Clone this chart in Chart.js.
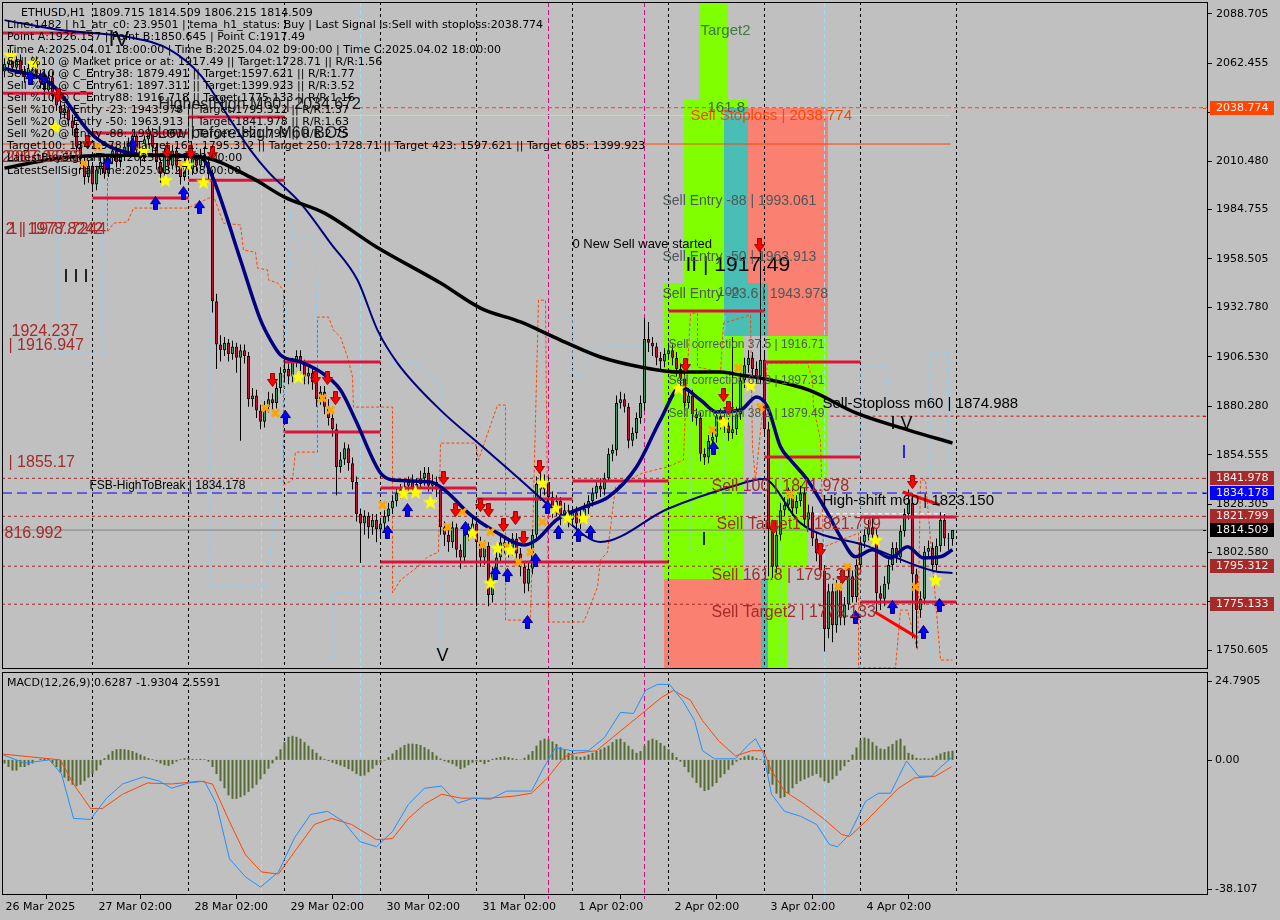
<!DOCTYPE html>
<html>
<head>
<meta charset="utf-8">
<title>ETHUSD H1</title>
<script src="https://cdn.jsdelivr.net/npm/chart.js@4.4.1/dist/chart.umd.min.js"></script>
<style>
  html, body { margin:0; padding:0; background:#c0c0c0; }
  body { width:1280px; height:920px; overflow:hidden; position:relative; }
  canvas { position:absolute; left:0; display:block; }
  #mainCv { top:0; }
  #macdCv { top:670px; }
</style>
</head>
<body>
<canvas id="mainCv" width="1280" height="670"></canvas>
<canvas id="macdCv" width="1280" height="250"></canvas>
<script>
// ===================== DATA =====================
const opens = [2058,2062,2066,2060,2064,2058,2055,2060,2063,2057,
 2052,2048,2055,2045,2040,2036,2038,2032,2028,2018,
 2010,2002,2008,1998,2006,2010,2004,2012,2016,2010,
 2014,2018,2020,2024,2016,2012,2022,2026,2018,2010,
 2004,2014,2008,2016,2008,2002,2010,2006,2012,2008,
 2014,2010,2004,1936,1913,1910,1914,1908,1912,1906,
 1910,1907,1884,1886,1878,1872,1880,1884,1882,1890,
 1898,1900,1896,1904,1907,1903,1896,1898,1893,1884,
 1888,1880,1874,1868,1848,1852,1858,1850,1840,1823,
 1818,1822,1816,1820,1815,1818,1822,1826,1830,1834,
 1836,1838,1840,1837,1839,1842,1845,1838,1840,1836,
 1816,1812,1808,1816,1804,1800,1812,1815,1818,1808,
 1800,1806,1780,1792,1800,1808,1806,1804,1810,1802,
 1795,1786,1794,1812,1839,1836,1840,1832,1826,1830,
 1822,1825,1820,1824,1818,1822,1826,1830,1834,1838,
 1836,1842,1855,1857,1882,1884,1880,1862,1866,1874,
 1882,1916,1914,1912,1906,1904,1908,1910,1906,1900,
 1895,1882,1886,1876,1874,1855,1853,1862,1864,1875,
 1872,1870,1866,1868,1876,1894,1902,1906,1900,1896,
 1905,1868,1815,1795,1812,1825,1828,1833,1826,1830,
 1834,1820,1824,1810,1802,1793,1762,1782,1764,1784,
 1768,1775,1790,1779,1796,1808,1812,1816,1812,1781,
 1778,1786,1796,1805,1800,1814,1823,1829,1791,1772,
 1778,1803,1805,1796,1806,1820,1810,1809.715];
const highs = [2065,2070,2069,2066,2067,2061,2062,2066,2066,2059,
 2056,2058,2058,2048,2043,2041,2041,2035,2031,2021,
 2013,2011,2010,2008,2013,2012,2014,2019,2018,2017,
 2021,2023,2027,2026,2018,2024,2029,2028,2020,2012,
 2017,2016,2019,2018,2010,2013,2012,2015,2014,2017,
 2018,2012,2006,1940,1918,1917,1916,1915,1914,1913,
 1913,1909,1890,1889,1881,1883,1888,1887,1893,1901,
 1907,1903,1906,1910,1910,1905,1901,1900,1896,1891,
 1891,1884,1877,1871,1856,1861,1860,1853,1843,1826,
 1825,1824,1823,1823,1821,1825,1829,1833,1837,1839,
 1841,1843,1844,1842,1846,1848,1848,1844,1843,1838,
 1819,1815,1819,1818,1807,1814,1818,1821,1822,1811,
 1809,1808,1795,1803,1811,1811,1809,1813,1813,1805,
 1798,1797,1815,1843,1846,1844,1843,1835,1833,1832,
 1829,1828,1827,1827,1825,1829,1833,1837,1841,1842,
 1845,1858,1860,1886,1888,1887,1882,1869,1877,1886,
 1927,1925,1917,1914,1909,1911,1914,1913,1909,1903,
 1898,1890,1889,1879,1877,1858,1865,1868,1878,1879,
 1876,1874,1917,1880,1898,1906,1910,1909,1904,1966,
 1910,1872,1820,1815,1829,1832,1837,1836,1833,1838,
 1837,1828,1827,1813,1805,1796,1786,1786,1788,1787,
 1779,1794,1793,1799,1811,1815,1820,1821,1815,1785,
 1790,1799,1808,1808,1817,1826,1836,1834,1794,1782,
 1806,1809,1808,1810,1824,1823,1813,1814.509];
const lows = [2055,2060,2058,2057,2056,2052,2053,2058,2054,2049,
 2045,2046,2042,2037,2033,2033,2029,2024,2015,2006,
 1998,1999,1994,1995,2003,2001,2002,2009,2007,2007,
 2011,2015,2018,2013,2008,2010,2019,2015,2006,1999,
 2001,2005,2006,2005,1998,2000,2003,2003,2005,2006,
 2007,2000,1930,1900,1904,1907,1904,1905,1898,1862,
 1903,1880,1880,1874,1868,1869,1877,1878,1879,1887,
 1893,1892,1893,1901,1899,1892,1892,1889,1880,1881,
 1876,1870,1864,1833,1845,1849,1846,1836,1819,1797,
 1812,1810,1812,1808,1811,1814,1819,1823,1827,1831,
 1832,1835,1834,1834,1836,1838,1835,1835,1832,1812,
 1806,1803,1805,1800,1794,1797,1809,1811,1774,1795,
 1796,1774,1776,1788,1797,1802,1800,1801,1798,1790,
 1781,1782,1791,1809,1830,1833,1829,1821,1822,1817,
 1818,1816,1817,1814,1815,1819,1823,1827,1831,1832,
 1833,1840,1851,1854,1879,1877,1858,1859,1863,1871,
 1878,1909,1907,1902,1900,1901,1905,1902,1896,1891,
 1878,1879,1872,1870,1851,1849,1850,1859,1861,1868,
 1866,1862,1863,1865,1873,1890,1898,1896,1892,1892,
 1864,1790,1789,1792,1809,1822,1825,1822,1823,1827,
 1816,1816,1806,1798,1789,1750,1757,1755,1760,1764,
 1764,1772,1776,1776,1793,1805,1809,1808,1770,1772,
 1774,1783,1793,1797,1797,1811,1820,1757,1752,1768,
 1775,1800,1793,1793,1803,1806,1804,1806.215];
const closes = [2062,2066,2060,2064,2058,2055,2060,2063,2057,2052,
 2048,2055,2045,2040,2036,2038,2032,2028,2018,2010,
 2002,2008,1998,2006,2010,2004,2012,2016,2010,2014,
 2018,2020,2024,2016,2012,2022,2026,2018,2010,2004,
 2014,2008,2016,2008,2002,2010,2006,2012,2008,2014,
 2010,2004,1936,1913,1910,1914,1908,1912,1906,1910,
 1907,1884,1886,1878,1872,1880,1884,1882,1890,1898,
 1900,1896,1904,1907,1903,1896,1898,1893,1884,1888,
 1880,1874,1868,1848,1852,1858,1850,1840,1823,1818,
 1822,1816,1820,1815,1818,1822,1826,1830,1834,1836,
 1838,1840,1837,1839,1842,1845,1838,1840,1836,1816,
 1812,1808,1816,1804,1800,1812,1815,1818,1808,1800,
 1806,1780,1792,1800,1808,1806,1804,1810,1802,1795,
 1786,1794,1812,1839,1836,1840,1832,1826,1830,1822,
 1825,1820,1824,1818,1822,1826,1830,1834,1838,1836,
 1842,1855,1857,1882,1884,1880,1862,1866,1874,1882,
 1916,1914,1912,1906,1904,1908,1910,1906,1900,1895,
 1882,1886,1876,1874,1855,1853,1862,1864,1875,1872,
 1870,1866,1868,1876,1894,1902,1906,1900,1896,1905,
 1868,1815,1795,1812,1825,1828,1833,1826,1830,1834,
 1820,1824,1810,1802,1793,1762,1782,1764,1784,1768,
 1775,1790,1779,1796,1808,1812,1816,1812,1781,1778,
 1786,1796,1805,1800,1814,1823,1829,1791,1772,1778,
 1803,1805,1796,1806,1820,1810,1809.715,1814.509];

// x axis (bar index; one bar = one hour)
const xTickBars = [-1.25, 22, 46, 70, 94, 118, 142, 166, 190, 214];
const xTickLabels = ['26 Mar 2025','27 Mar 02:00','28 Mar 02:00','29 Mar 02:00','30 Mar 02:00','31 Mar 02:00','1 Apr 02:00','2 Apr 02:00','3 Apr 02:00','4 Apr 02:00'];
const daySepBars = [22, 46, 70, 94, 118, 142, 166, 190, 214, 238];
const magentaBars = [135.75, 159.75];
const cyanBars = [64, 88.75, 204.75];
const yTicks = [2088.705,2062.455,2036.205,2010.480,1984.755,1958.505,1932.780,1906.530,1880.280,1854.555,1828.305,1802.580,1776.330,1750.605];

// moving averages
const maSlowBars = [0,16,32,49,61.5,70,80,93,109,119,129,139,149,159,169,179,184,189,201,213,226,237];
const maSlowVals = [2006.7,2012.6,2013.6,2012.6,2001.9,1991.3,1982.8,1964.8,1945.7,1932.4,1925.0,1915.4,1906.4,1901.1,1898.4,1898.4,1896.8,1895.2,1888.9,1876.6,1867.6,1860.7];
const maFastBars = [0,12,21.5,26.5,36.5,49,52,59,64,66.5,69,74,79,84,87.75,94,97,106.5,110,116.5,122,130,133,138,145,151,158,164,169,174,178,184,188,190.75,194,196.5,200.75,205.75,209,212.75,217,221.5,225.75,229.75,234,237];
const maFastVals = [2059.8,2050.8,2025.3,2017.9,2013.6,2012.6,2002.0,1957.9,1926.1,1915.4,1907.5,1903.8,1898.5,1888.9,1873.0,1844.8,1841.1,1840.1,1835.8,1822.6,1814.6,1806.6,1809.3,1819.9,1826.8,1832.1,1848.0,1873.0,1890.5,1883.6,1877.3,1878.3,1885.2,1879.9,1858.7,1851.7,1841.1,1823.6,1810.9,1800.3,1804.0,1799.7,1805.6,1799.7,1800.3,1804.0];
const maMidBars = [0,14,31,41.5,49,56.5,61.5,66,74,81.5,88.25,93.25,98.25,109,119,129,139,149,165.75,182.25,189.75,199,215.75,232.25,237];
const maMidVals = [2085.3,2080.0,2076.3,2069.4,2056.1,2032.2,2016.3,2004.6,1988.1,1966.9,1947.3,1920.7,1903.2,1878.2,1859.7,1841.1,1822.5,1808.2,1825.7,1837.9,1841.6,1818.2,1806.0,1792.8,1791.7];

// orange dashed channel (step line)
const stepBars = [25.75,25.75,27.25,30.75,32.25,45.75,52.25,54.75,59,59.75,62.75,63.25,65.75,66,68.25,69.75,69.75,72,72.75,78.25,78.25,81,82.25,84,85.75,87,87.25,97,97,99,103.25,105.75,108.5,109,117.75,118.5,123.25,125.25,125.25,131.5,133.5,135.25,136,144.75,145.75,148.25,149,150.75,152.75,159.5,165.75,169.75,170.25,171.5,173.25,173.25,179,179.75,186.5,187,187.75,190.75,200.75,202,202.25,204,204.5,204.75,213.5,213.5,222.75,224,225.75,228.25,229,230.25,234,237];
const stepVals = [2009.4,1972.7,1977.5,1978.1,1985.5,1985.5,1991.9,1977.5,1976.5,1963.2,1962.1,1953.6,1952.6,1947.3,1945.7,1941.9,1838.4,1841.1,1855.9,1855.9,1927.6,1927.6,1920.7,1917.0,1906.4,1895.8,1879.8,1879.8,1781.1,1788.0,1794.9,1800.2,1802.8,1860.7,1860.7,1851.7,1880.9,1880.9,1766.7,1766.7,1936.6,1936.6,1765.7,1765.7,1770.5,1784.3,1798.6,1802.8,1837.4,1844.8,1848.0,1851.7,1879.8,1929.7,1929.7,1901.1,1898.4,1924.4,1928.7,1858.6,1841.1,1903.2,1903.2,1894.2,1879.8,1862.3,1823.5,1805.5,1812.9,1741.3,1741.3,1772.0,1772.0,1750.8,1841.1,1841.1,1745.5,1745.5];

// light-blue dashed channel pieces
const lbPathBars = [
  [13.4, 13.4, 24.6, 24.6],
  [51.4, 51.4, 65.6, 65.9, 69.4, 71.4, 72.1, 77.6, 78.1, 78.1],
  [96.4, 102.1, 108.9, 108.9],
  [82.1, 82.1, 97.1, 97.1],
  [140.1, 142.1, 142.1, 143.9, 146.4, 149.6, 164.6],
  [171.4, 171.4, 180.1, 180.1],
  [193.9, 193.9, 213.4],
  [213.9, 213.9, 220.6, 221.4],
  [231.4, 231.4, 235.9, 236.4]
];
const lbPathVals = [
  [2093.3, 1908.5, 1908.5, 2000.3],
  [1932.9, 1784.3, 1784.3, 1794.9, 1846.4, 1984.4, 1970.1, 1970.1, 1927.6, 1846.4],
  [1902.1, 1903.7, 1892.6, 1745.5],
  [1745.5, 1781.1, 1781.1, 1806.6],
  [1927.6, 1927.6, 1897.9, 1895.8, 1910.1, 1911.7, 1911.7],
  [1803.9, 1931.3, 1931.3, 1798.6],
  [1741.0, 1857.0, 1857.0],
  [1741.0, 1901.1, 1901.1, 1884.0],
  [1741.0, 1909.0, 1909.0, 1802.3]
];

// horizontal levels
const stoplossLevel = 2038.774;
const highestHighLevel = 2034.672;
const targetLineLevel = 2019.5;
const m60StopLevel = 1874.988;
const fsbLevel = 1834.178;
const highShiftLevel = 1823.150;
const lastPrice = 1814.509;
const targetLevels = [1841.978, 1821.799, 1795.312, 1775.133];

// crimson box segments
const boxFrom = [-0.6, -0.6, 22, 46, 22, 46, 70, 70, 94, 94, 118, 142, 166, 190, 190, 214, 214];
const boxTo   = [22, 22, 46, 70, 46, 70, 94, 94, 118, 166, 142, 166, 190, 214, 214, 238, 238];
const boxVals = [2078.4, 2046.5, 2025.3, 2033.8, 1990.8, 2000.3, 1903.7, 1866.6, 1836.8, 1797.5, 1831.0, 1840.5, 1930.8, 1903.7, 1853.3, 1821.4, 1776.3];
// red trend strokes
const trendFromBars = [217.6, 224.6];
const trendToBars = [227.9, 233.9];
const trendFromVals = [1771.0, 1834.7];
const trendToVals = [1757.8, 1827.8];

// zones
const zoneStart = [173.75,169.75,169.75,179.75,185.75,164.75,179.75,190.75,164.75,190.75,190.75,164.75,189,190.75];
const zoneEnd   = [180.75,185.75,179.75,185.75,205.75,179.75,190.75,205.75,184.75,205.75,200.75,189,190.75,195.75];
const zoneTop   = [2094.92,2042.8,2038.6,2038.6,2038.6,1945.7,1945.7,1945.7,1917.5,1917.5,1841.5,1788.5,1788.5,1794.3];
const zoneBot   = [2042.8,2038.6,1945.7,1945.7,1945.7,1917.5,1917.5,1917.5,1788.5,1841.5,1794.3,1740.73,1740.73,1740.73];
const zoneKind  = ['lime','lime','lime','teal','salmon','lime','teal','salmon','lime','lime','lime','salmon','teal','lime'];

// signal markers
const starBars = [1.5,7.25,12.75,34.75,40.25,45.75,49.75,73.5,99.75,102.75,106.5,117,121.5,123.25,126.5,134.5,137.75,140.75,144.75,168.5,179.75,186.5,217.75,232.75];
const starVals = [2066.7,2062.5,2028.5,2016.3,2000.3,2008.3,1999.3,1895.8,1834.2,1834.7,1829.4,1812.9,1786.4,1805.0,1803.9,1839.5,1826.2,1820.9,1820.9,1889.9,1871.9,1891.5,1809.2,1788.0];
const crossBars = [19.75,23.25,44.5,65.25,67.75,79.5,81.5,94.5,110.75,114.5,119.5,121.5,125.75,128.5,131.5,134.5,177,183.5,189,196.5,210.75,208.5,227.75];
const crossVals = [2009.4,2017.9,2008.3,1879.3,1876.6,1884.6,1878.2,1827.8,1816.1,1824.1,1806.6,1813.5,1805.5,1797.5,1802.8,1818.8,1867.6,1900.5,1879.8,1833.1,1794.9,1784.3,1784.3];
const downBars = [13.5,20.75,40.75,46.5,52,67,77.75,80.75,82.75,109.75,112.75,119,121,124.75,127.75,129.75,133.75,170.25,179.75,181,188.75,192.25,204,209.5,227];
const downVals = [2045.5,2020.5,2015.2,2015.2,2014.7,1894.2,1895.2,1895.2,1884.6,1842.1,1825.1,1827.8,1825.1,1817.2,1820.9,1810.3,1848.0,1902.1,1886.2,1879.3,1965.8,1816.1,1803.9,1789.6,1840.0];
const upBars = [6.5,9.75,25.75,32,37.75,44.75,48.75,70.25,95.75,100.75,115.25,122.75,125.75,130.75,132.75,135.75,138.5,143.5,146.5,177.25,212.75,222,229.75,233.75];
const upVals = [2054.5,2054.5,2009.4,2018.9,1988.1,1993.4,1986.0,1874.5,1813.5,1825.1,1815.6,1791.7,1790.6,1765.7,1798.6,1826.7,1813.5,1811.9,1813.5,1858.1,1768.3,1773.6,1760.4,1774.7];

// price tags on the right axis
const tagValues = [2038.774, 1841.978, 1834.178, 1821.799, 1814.509, 1795.312, 1775.133];
const tagKinds  = ['stop', 'target', 'fsb', 'target', 'last', 'target', 'target'];

// MACD(12,26,9)
const histVals = [-1,-2,-3,-3,-2,-2,-1.5,-1,0,0.3,0.5,0.3,
 -1,-2,-3.5,-5,-6,-7,-7.4,-7,-6,-5,-4,-3,-1.5,
 0.5,1.5,2.5,3,3.1,3,2.8,2.5,2,1.5,1,0.5,0.2,
 -0.5,-1,-1.5,-1.7,-1.2,-0.5,0.2,0.5,0.5,0.3,0.2,0.3,0.2,
 -0.5,-2,-4,-6,-8,-10,-11,-11,-10.5,-10,-9,-8,-7,-5.5,-4,-2.5,-1,
 1,3,5,6.5,6.8,6.5,6,5,4,3,2,1,0.3,
 -0.3,-0.8,-1.2,-1.6,-2,-2.6,-3.2,-4,-4.6,-4.4,-3.5,-2.5,-1.5,-0.8,-0.2,
 0.8,1.8,2.8,3.5,4.2,4.6,4.6,4.5,4.2,3.6,3,2.2,1.2,0.4,
 -0.4,-0.8,-1.2,-1.8,-2.6,-2.2,-1.5,-0.8,-0.5,-0.6,-1.2,-0.6,
 0.3,0.6,0.8,1,0.8,0.5,0.3,0.1,
 0.6,1.5,2.5,4,5.5,6,5.8,5.2,4.5,3.6,2.8,2,
 1.5,1,0.8,1,1.5,2,2.5,3,3.5,4,5,5.8,6,5,4,3,2,2.5,4,5.5,6,5.6,4.8,4,3,2,0.8,
 -0.5,-2,-3.5,-5,-6.5,-7.8,-8.8,-8.5,-7.5,-6.5,-5,-4,-2.8,-1.5,-0.5,
 0.5,1,1.3,1,0.5,0.2,
 -1,-4,-7,-9.5,-10.8,-10.5,-9.5,-8,-6.8,-6,-5.5,-5,-4.5,-4,-5,-6,-6.5,-5.5,-4.5,-3,-1.8,-0.6,
 1.5,3.5,5.5,6.3,6,5,4,3.2,3,3.8,4.5,5.5,6,4,
 2,1.5,0.6,0.4,0.5,0.4,0.6,1.2,1.8,2.2,2.4,2.56];
const macdBars = [-1,5,11.25,14.25,17.25,21.5,25.5,29.5,34.75,38.75,41.75,46,50,53,56.25,60.25,64,68.5,72.5,76.5,80.75,84.75,88.75,93,97,101,105,109.25,113.25,117.25,121.5,125.5,131.75,134.75,137.75,141.75,146,150,154,157.25,160.25,163.25,166.25,169.5,172.5,174.5,177.5,182.75,185.75,187.75,189.75,191.75,195,199,203,206.25,208.25,211.25,215.25,218.5,221.5,225.5,228.5,231.75,233.75,236.75];
const macdVals = [1.7,-0.9,0,-4,-16.5,-16.8,-10.8,-6.8,-4.8,-6,-8,-6.5,-6,-12.5,-27.9,-33,-35.9,-31.6,-22,-15.4,-14.5,-17.4,-23,-24.5,-20.2,-12.5,-8,-7.4,-12.2,-10.8,-11.1,-8.8,-8.8,-2.3,3.4,2.6,2.6,6.3,13.4,13.1,19.6,21.3,21.3,16.8,11.1,2.6,0.3,0.3,4,6,1.7,-9.7,-14.5,-15.9,-18.2,-23.9,-24.5,-21,-11.7,-9.4,-9.4,-0.3,-4.6,-4.6,-2.3,0.63];
const signalBars = [-1,14,17.25,21.5,24.5,29.5,35.75,41.75,49,52,56.25,60.25,64.25,68.5,72.5,77.5,81.75,86.75,93,97,101,105,109.25,114.25,121.5,127.5,131.75,135.75,139.75,141.75,148,152,156.25,160.25,164.25,167.25,171.5,174.5,178.5,182.75,186.75,189.75,191.75,195,200,205,209.25,211.25,215.25,219.5,223.5,227.5,232.75,236.75];
const signalVals = [1.7,0,-6.8,-13.7,-13.7,-9.7,-6.5,-6.8,-6,-6.8,-17.4,-26.8,-31.6,-32.2,-25.9,-18.2,-16.5,-18.2,-22.5,-22.2,-16.5,-12.5,-9.7,-10.8,-10.8,-10.2,-9.4,-5.1,0.6,1.7,2.6,6.3,10.2,13.9,17.6,19.6,16.8,11.1,5.4,1.1,2.6,2.6,-3.1,-8.8,-12.5,-16.8,-21,-21.6,-17.4,-12.5,-8,-5.1,-4.6,-1.93];
const macdTicks = [24.7905, 0, -38.107];

// ===================== STYLE / RENDER =====================
const UI_FONT = "'DejaVu Sans', sans-serif";
const OBJ_FONT = "'Liberation Sans', Arial, sans-serif";
const XMIN = -0.625, XMAX = 300.875;
const YMIN = 1740.73, YMAX = 2094.92;
const ZONE_COLORS = {lime:'#7fff00', teal:'#48beb4', salmon:'#fa8072'};
const TAG_COLORS = {stop:'#ff4500', target:'#a52a2a', fsb:'#0000ff', last:'#000000'};

Chart.defaults.font.family = UI_FONT;
Chart.defaults.font.size = 11;
Chart.defaults.color = '#000';

const pts = (xs, ys) => xs.map((x, k) => ({x, y: ys[k]}));
const hline = (x1, x2, v) => [{x:x1, y:v}, {x:x2, y:v}];
const noPad = s => { s.paddingLeft = 0; s.paddingRight = 0; s.paddingTop = 0; s.paddingBottom = 0; };

function makeStar() {
  const c = document.createElement('canvas'); c.width = 17; c.height = 17;
  const g = c.getContext('2d'); g.fillStyle = '#ffff00'; g.beginPath();
  for (let k = 0; k < 10; k++) {
    const r = k % 2 ? 3.3 : 8; const a = -Math.PI / 2 + k * Math.PI / 5;
    g.lineTo(8.5 + r * Math.cos(a), 9 + r * Math.sin(a));
  }
  g.closePath(); g.fill(); return c;
}
function makeArrow(fill, edge, up) {
  const c = document.createElement('canvas'); c.width = 11; c.height = 14;
  const g = c.getContext('2d');
  if (up) { g.translate(0, 14); g.scale(1, -1); }
  g.beginPath(); g.moveTo(3.5,0.5); g.lineTo(7.5,0.5); g.lineTo(7.5,6.5); g.lineTo(10.5,6.5);
  g.lineTo(5.5,13.5); g.lineTo(0.5,6.5); g.lineTo(3.5,6.5); g.closePath();
  g.fillStyle = fill; g.fill(); g.strokeStyle = edge; g.lineWidth = 1; g.stroke(); return c;
}
const starImg = makeStar();
const downImg = makeArrow('#ff0000', '#a00000', false);
const upImg = makeArrow('#0000ff', '#000080', true);

const candleIdx = closes.map((_, k) => k);

const mainDatasets = [
  {type:'line', order:0, showLine:false, data:pts(downBars, downVals), pointStyle:downImg, pointRadius:6},
  {type:'line', order:0, showLine:false, data:pts(upBars, upVals), pointStyle:upImg, pointRadius:6},
  {type:'line', order:0, showLine:false, data:pts(starBars, starVals), pointStyle:starImg, pointRadius:6},
  {type:'line', order:0, showLine:false, data:pts(crossBars, crossVals), pointStyle:'crossRot', pointRadius:5, pointBorderColor:'#ffa500', pointBorderWidth:3},
  {type:'line', order:1, data:pts(maSlowBars, maSlowVals), borderColor:'#000000', borderWidth:3.5, pointRadius:0, cubicInterpolationMode:'monotone'},
  {type:'line', order:1, data:pts(maFastBars, maFastVals), borderColor:'#000080', borderWidth:3.5, pointRadius:0, cubicInterpolationMode:'monotone'},
  {type:'line', order:1, data:pts(maMidBars, maMidVals), borderColor:'#000080', borderWidth:2, pointRadius:0, cubicInterpolationMode:'monotone'},
  ...trendFromBars.map((b, k) => ({type:'line', order:1.5, data:[{x:b, y:trendFromVals[k]}, {x:trendToBars[k], y:trendToVals[k]}], borderColor:'#ff0000', borderWidth:3, pointRadius:0})),
  ...boxVals.map((v, k) => ({type:'line', order:1.6, data:hline(boxFrom[k], boxTo[k], v), borderColor:'#dc143c', borderWidth:3, pointRadius:0})),
  {type:'bar', order:2, grouped:false, maxBarThickness:3, inflateAmount:0,
   data:candleIdx.map(k => ({x:k, y:[opens[k], closes[k]]})),
   backgroundColor:candleIdx.map(k => closes[k] >= opens[k] ? '#3cb371' : '#dc143c'),
   borderColor:'#000000', borderWidth:1, borderSkipped:false},
  {type:'bar', order:3, grouped:false, maxBarThickness:1, inflateAmount:0,
   data:candleIdx.map(k => ({x:k, y:[lows[k], highs[k]]})), backgroundColor:'#000000', borderWidth:0},
  {type:'line', order:5, data:hline(XMIN, XMAX, stoplossLevel), borderColor:'#ff4500', borderWidth:1, borderDash:[4,3], pointRadius:0},
  {type:'line', order:5, data:hline(38.5, 236.5, highestHighLevel), borderColor:'#adff2f', borderWidth:1, pointRadius:0},
  {type:'line', order:5, data:hline(XMIN, 236.5, targetLineLevel), borderColor:'#ff4500', borderWidth:1, pointRadius:0},
  {type:'line', order:5, data:hline(206.5, XMAX, m60StopLevel), borderColor:'#d01010', borderWidth:1, borderDash:[3,3], pointRadius:0},
  {type:'line', order:5, data:hline(XMIN, XMAX, fsbLevel), borderColor:'#0000ff', borderWidth:1, borderDash:[10,5], pointRadius:0},
  {type:'line', order:5, data:hline(200.9, 235.1, highShiftLevel), borderColor:'#ffffff', borderWidth:1, borderDash:[4,3], pointRadius:0},
  {type:'line', order:5, data:hline(XMIN, XMAX, lastPrice), borderColor:'#808080', borderWidth:1, pointRadius:0},
  ...targetLevels.map(v => ({type:'line', order:5, data:hline(XMIN, XMAX, v), borderColor:'#a52a2a', borderWidth:1, borderDash:[3,3], pointRadius:0})),
  {type:'line', order:6, data:pts(stepBars, stepVals), borderColor:'#ff4500', borderWidth:1, borderDash:[3,2], pointRadius:0},
  ...lbPathBars.map((bars, k) => ({type:'line', order:6, data:pts(bars, lbPathVals[k]), borderColor:'#87cefa', borderWidth:1, borderDash:[5,2,1,2], pointRadius:0})),
];

const notes = [
  [142, 1966.4, '0 New Sell wave started', '#000000', "13px " + OBJ_FONT],
  [170.25, 1955.2, 'II | 1917.49', '#000000', "21px " + OBJ_FONT],
  [174, 2079.5, 'Target2', '#3a7a3a', "15px " + OBJ_FONT],
  [175.75, 2038.6, '161.8', '#3a6a3a', "15px " + OBJ_FONT],
  [171.5, 2034.3, 'Sell Stoploss | 2038.774', '#ff4500', "15px " + OBJ_FONT],
  [164.5, 1989.2, 'Sell Entry -88 | 1993.061', '#4b5959', "14px " + OBJ_FONT],
  [164.5, 1959.5, 'Sell Entry -50 | 1963.913', '#4b5959', "14px " + OBJ_FONT],
  [164.5, 1939.9, 'Sell Entry -23.6 | 1943.978', '#4b5959', "14px " + OBJ_FONT],
  [178.25, 1940.9, '100', '#4b5959', "13px " + OBJ_FONT],
  [166, 1912.8, 'Sell correction 37.5 | 1916.71', '#4b5959', "12px " + OBJ_FONT],
  [166, 1893.6, 'Sell correction 61.8 | 1897.31', '#4b5959', "12px " + OBJ_FONT],
  [166, 1876.1, 'Sell correction 38.2 | 1879.49', '#4b5959', "12px " + OBJ_FONT],
  [176.75, 1837.4, 'Sell 100 | 1841.978', '#a52a2a', "16px " + OBJ_FONT],
  [178, 1817.2, 'Sell Target1 | 1821.799', '#a52a2a', "16px " + OBJ_FONT],
  [176.75, 1790.1, 'Sell 161.8 | 1795.312', '#a52a2a', "16px " + OBJ_FONT],
  [176.75, 1770.5, 'Sell Target2 | 1775.133', '#a52a2a', "16px " + OBJ_FONT],
  [204.5, 1881.4, 'Sell-Stoploss m60 | 1874.988', '#000000', "15px " + OBJ_FONT],
  [204.5, 1829.9, 'High-shift m60 | 1823.150', '#000000', "15px " + OBJ_FONT],
  [21.25, 1837.9, 'FSB-HighToBreak | 1834.178', '#000000', "12px " + OBJ_FONT],
  [221.5, 1870.8, 'I V', '#000000', "18px " + OBJ_FONT],
  [224.25, 1855.4, 'I', '#0000ff', "18px " + OBJ_FONT],
  [174.25, 1809.2, 'I', '#000000', "18px " + OBJ_FONT],
  [108, 1747.7, 'V', '#000000', "18px " + OBJ_FONT],
  [14.75, 1948.9, 'I I I', '#000000', "18px " + OBJ_FONT],
  [26, 2074.7, 'IV', '#111111', "22px " + OBJ_FONT],
  [38.5, 2040.7, 'HighestHigh M60 | 2034.672', '#1a1a1a', "16px " + OBJ_FONT],
  [38.25, 2025.3, 'Low before High M60 BOS', '#1a1a1a', "16px " + OBJ_FONT],
  [1.75, 1919.7, '1924.237', '#a52a2a', "16px " + OBJ_FONT],
  [1, 1912.2, '| 1916.947', '#a52a2a', "16px " + OBJ_FONT],
  [1, 1850.1, '| 1855.17', '#a52a2a', "16px " + OBJ_FONT],
  [0, 1812.4, '816.992', '#a52a2a', "16px " + OBJ_FONT],
  [0.25, 1973.8, '2 | 1978.8242', '#a52a2a', "16px " + OBJ_FONT],
  [1, 1973.8, '1 | 1977.7244', '#a52a2a', "16px " + OBJ_FONT],
  [-0.6, 2012.4, '2017.0620', '#a52a2a', "16px " + OBJ_FONT],
  [0.4, 2012.4, '2016.5522', '#a52a2a', "16px " + OBJ_FONT],
];

const infoLines = [
  'Line:1482 | h1_atr_c0: 23.9501 | tema_h1_status: Buy | Last Signal is:Sell with stoploss:2038.774',
  'Point A:1926.157 | Point B:1850.645 | Point C:1917.49',
  'Time A:2025.04.01 18:00:00 | Time B:2025.04.02 09:00:00 | Time C:2025.04.02 18:00:00',
  'Sell %10 @ Market price or at: 1917.49 || Target:1728.71 || R/R:1.56',
  'Sell %10 @ C_Entry38: 1879.491 || Target:1597.621 || R/R:1.77',
  'Sell %10 @ C_Entry61: 1897.311 || Target:1399.923 || R/R:3.52',
  'Sell %10 @ C_Entry88: 1916.718 || Target:1775.133 || R/R:1.16',
  'Sell %10 @ Entry -23: 1943.978 || Target:1795.312 || R/R:1.37',
  'Sell %20 @ Entry -50: 1963.913 || Target:1841.978 || R/R:1.63',
  'Sell %20 @ Entry -88: 1993.061 || Target:1821.799 || R/R:2.75',
  'Target100: 1841.978 || Target 161: 1795.312 || Target 250: 1728.71 || Target 423: 1597.621 || Target 685: 1399.923',
  'LatestBuySignalTime:2025.03.27 02:00:00',
  'LatestSellSignalTime:2025.03.27 08:00:00',
];

function vline(ctx, px, top, bottom, color, dash) {
  ctx.save(); ctx.strokeStyle = color; ctx.lineWidth = 1; ctx.setLineDash(dash);
  ctx.beginPath(); ctx.moveTo(Math.round(px) + 0.5, top); ctx.lineTo(Math.round(px) + 0.5, bottom); ctx.stroke(); ctx.restore();
}

const mainDeco = {
  id: 'mainDeco',
  beforeDatasetsDraw(chart) {
    const {ctx, chartArea: a, scales: {x, y}} = chart;
    ctx.save();
    ctx.beginPath(); ctx.rect(a.left, a.top, a.right - a.left, a.bottom - a.top); ctx.clip();
    zoneStart.forEach((s, k) => {
      const x1 = Math.round(x.getPixelForValue(s)), x2 = Math.round(x.getPixelForValue(zoneEnd[k]));
      const y1 = Math.round(y.getPixelForValue(zoneTop[k])), y2 = Math.round(y.getPixelForValue(zoneBot[k]));
      ctx.fillStyle = ZONE_COLORS[zoneKind[k]]; ctx.fillRect(x1, y1, x2 - x1, y2 - y1);
    });
    cyanBars.forEach(b => vline(ctx, x.getPixelForValue(b), a.top, a.bottom, '#a6dcef', [5, 3]));
    magentaBars.forEach(b => vline(ctx, x.getPixelForValue(b), a.top, a.bottom, '#c71585', [5, 3]));
    daySepBars.forEach(b => vline(ctx, x.getPixelForValue(b) - 0.5, a.top, a.bottom, '#000000', [3, 3]));
    ctx.restore();
  },
  afterDatasetsDraw(chart) {
    const {ctx, scales: {x, y}} = chart;
    ctx.save(); ctx.textBaseline = 'middle'; ctx.textAlign = 'left';
    notes.forEach(n => { ctx.font = n[4]; ctx.fillStyle = n[3]; ctx.fillText(n[2], x.getPixelForValue(n[0]), y.getPixelForValue(n[1])); });
    ctx.restore();
  },
  afterDraw(chart) {
    const {ctx, chartArea: a, scales: {y}} = chart;
    ctx.save();
    ctx.strokeStyle = '#000'; ctx.lineWidth = 1; ctx.setLineDash([]);
    ctx.strokeRect(a.left + 0.5, a.top + 0.5, a.right - a.left - 1, a.bottom - a.top - 1);
    ctx.font = "11px " + UI_FONT; ctx.textBaseline = 'middle'; ctx.textAlign = 'left';
    tagValues.forEach((v, k) => {
      const py = Math.round(y.getPixelForValue(v));
      const col = TAG_COLORS[tagKinds[k]];
      ctx.fillStyle = col; ctx.fillRect(a.right + 2, py - 7, 64, 14);
      ctx.fillRect(a.right - 5, py, 3, 1);
      ctx.fillStyle = '#f8f0f0'; ctx.fillText(v.toFixed(3), a.right + 8, py + 0.5);
    });
    ctx.fillStyle = '#d01010'; ctx.fillRect(a.right - 5, Math.round(y.getPixelForValue(m60StopLevel)), 3, 1);
    ctx.fillStyle = '#000';
    ctx.fillText('ETHUSD,H1  1809.715 1814.509 1806.215 1814.509', 21, 13);
    infoLines.forEach((t, k) => ctx.fillText(t, 7, 25.5 + k * 12.1));
    ctx.restore();
  }
};

new Chart(document.getElementById('mainCv'), {
  type: 'bar',
  data: { datasets: mainDatasets },
  options: {
    responsive: false, animation: false, devicePixelRatio: 1, events: [],
    layout: { autoPadding: false, padding: { left: 2, top: 2, right: 0, bottom: 1 } },
    plugins: { legend: { display: false }, tooltip: { enabled: false } },
    scales: {
      x: { type: 'linear', min: XMIN, max: XMAX, offset: false, display: false, ticks: { display: false },
        afterFit: s => { noPad(s); } },
      y: { type: 'linear', position: 'right', min: YMIN, max: YMAX,
        afterFit: s => { s.width = 72; noPad(s); },
        afterBuildTicks: s => { s.ticks = yTicks.map(v => ({value: v})); },
        ticks: { callback: v => Number(v).toFixed(3), padding: 4, autoSkip: false, color: '#000', font: { size: 11, family: UI_FONT } },
        grid: { drawOnChartArea: false, drawTicks: true, tickLength: 4, color: '#000' },
        border: { display: false } }
    }
  },
  plugins: [mainDeco]
});

const macdDeco = {
  id: 'macdDeco',
  beforeDatasetsDraw(chart) {
    const {ctx, chartArea: a, scales: {x}} = chart;
    ctx.save();
    cyanBars.forEach(b => vline(ctx, x.getPixelForValue(b), a.top, a.bottom + 4, '#a6dcef', [5, 3]));
    magentaBars.forEach(b => vline(ctx, x.getPixelForValue(b), a.top, a.bottom + 4, '#c71585', [5, 3]));
    daySepBars.forEach(b => vline(ctx, x.getPixelForValue(b) - 0.5, a.top, a.bottom, '#000000', [3, 3]));
    ctx.restore();
  },
  afterDraw(chart) {
    const {ctx, chartArea: a, scales: {y}} = chart;
    ctx.save();
    ctx.strokeStyle = '#000'; ctx.lineWidth = 1;
    ctx.strokeRect(a.left + 0.5, a.top + 0.5, a.right - a.left - 1, a.bottom - a.top - 1);
    ctx.font = "11px " + UI_FONT; ctx.textBaseline = 'middle'; ctx.textAlign = 'left'; ctx.fillStyle = '#000';
    macdTicks.forEach((v, k) => {
      let py = y.getPixelForValue(v);
      if (k === 0) py += 9; if (k === macdTicks.length - 1) py -= 6;
      ctx.fillRect(a.right, Math.round(py), 4, 1);
      ctx.fillText(k === 1 ? '0.00' : String(v), a.right + 7, py);
    });
    ctx.fillText('MACD(12,26,9) 0.6287 -1.9304 2.5591', 7, a.top + 11);
    ctx.restore();
  }
};

new Chart(document.getElementById('macdCv'), {
  type: 'bar',
  data: { datasets: [
    {type:'line', order:0, data:pts(macdBars, macdVals), borderColor:'#1e90ff', borderWidth:1, pointRadius:0},
    {type:'line', order:0, data:pts(signalBars, signalVals), borderColor:'#ff4500', borderWidth:1, pointRadius:0},
    {type:'bar', order:1, grouped:false, maxBarThickness:2, inflateAmount:0,
     data:histVals.map((v, k) => ({x:k, y:v})), backgroundColor:'#556b2f', borderWidth:0}
  ]},
  options: {
    responsive: false, animation: false, devicePixelRatio: 1, events: [],
    layout: { autoPadding: false, padding: { left: 2, top: 2, right: 0, bottom: 0 } },
    plugins: { legend: { display: false }, tooltip: { enabled: false } },
    scales: {
      x: { type: 'linear', min: XMIN, max: XMAX, offset: false, position: 'bottom',
        afterFit: s => { s.height = 25; noPad(s); },
        afterBuildTicks: s => { s.ticks = xTickBars.map(v => ({value: v})); },
        ticks: { autoSkip: false, maxRotation: 0, minRotation: 0, align: 'start', labelOffset: 6, padding: 2,
          callback: (v, k) => xTickLabels[k], color: '#000', font: { size: 11, family: UI_FONT } },
        grid: { drawOnChartArea: false, drawTicks: true, tickLength: 4, color: '#000' },
        border: { display: false } },
      y: { type: 'linear', position: 'right', min: -38.107, max: 24.7905,
        afterFit: s => { s.width = 72; noPad(s); },
        ticks: { display: false }, grid: { display: false }, border: { display: false } }
    }
  },
  plugins: [macdDeco]
});
</script>
</body>
</html>
